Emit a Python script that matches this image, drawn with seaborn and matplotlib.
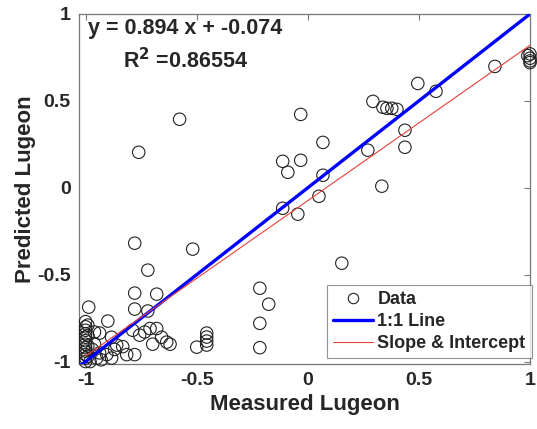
import numpy as np
import pandas as pd
import matplotlib
matplotlib.use("Agg")
import matplotlib.pyplot as plt
import seaborn as sns
from matplotlib.lines import Line2D

# ---- data ----
measured = [1.00, 0.99, 1.00, 1.00, 1.00, 0.842, 0.495, 0.577, 0.293,
            0.338, 0.356, 0.378, 0.401, -0.032, 0.437, 0.068, 0.437, 0.27,
            -0.032, 0.068, 0.05, 0.333, -0.045, -0.577, -0.113, -0.09,
            -0.113, -0.518, -0.72, 0.153, -0.761, -0.779, -0.216, -0.176,
            -0.216, -0.216, -0.5, -0.455, -0.455, -0.455, -0.455, -0.779,
            -0.68,
            -0.986, -0.90, -0.779, -0.72,
            -1.0, -1.0, -1.0, -1.0, -1.0, -1.0, -1.0, -1.0, -1.0, -1.0, -1.0, -1.0,
            -0.99, -0.99, -0.99, -0.99,
            -0.96, -0.937, -0.883, -0.788, -0.757, -0.734, -0.71, -0.68,
            -0.658, -0.635, -0.62, -0.698, -0.86, -0.833, -0.87, -0.815,
            -0.779, -0.905, -0.883, -0.937, -0.95, -0.98, -0.93, -0.97, -0.96]
predicted = [0.77, 0.76, 0.745, 0.73, 0.72, 0.698, 0.60, 0.555, 0.497,
             0.463, 0.457, 0.457, 0.451, 0.422, 0.331, 0.261, 0.233, 0.216,
             0.158, 0.072, -0.049, 0.009, -0.152, 0.394, 0.152, 0.089,
             -0.118, -0.353, -0.474, -0.434, 0.204, -0.319, -0.578, -0.67,
             -0.78, -0.92, -0.917, -0.836, -0.859, -0.882, -0.905, -0.606,
             -0.612,
             -0.687, -0.767, -0.698, -0.709,
             -0.77, -0.80, -0.82, -0.84, -0.86, -0.88, -0.90, -0.92, -0.94, -0.96, -0.98, -1.0,
             -0.79, -0.85, -0.91, -0.97,
             -0.83, -0.836, -0.86, -0.82, -0.848, -0.83, -0.81, -0.81,
             -0.86, -0.888, -0.90, -0.90, -0.905, -0.914, -0.93, -0.96,
             -0.96, -0.96, -0.98, -0.95, -0.98, -1.0, -0.99, -0.93, -0.90]

one_to_one = [-1.03, 1.0]
fit_range = [-1.0, 1.0]
slope = 0.894
intercept = -0.074
r_squared = 0.86554
ticks = [-1, -0.5, 0, 0.5, 1]
tick_labels = ["-1", "-0.5", "0", "0.5", "1"]

df = pd.DataFrame({"Measured": measured, "Predicted": predicted})
fit_x = np.array(fit_range)
fit_y = slope * fit_x + intercept

# ---- style ----
sns.set_style("white")
plt.rcParams["font.family"] = ["Liberation Sans", "DejaVu Sans"]
plt.rcParams["font.weight"] = "bold"
plt.rcParams["axes.unicode_minus"] = False

fig = plt.figure(figsize=(5.37, 4.29), dpi=100)
ax = fig.add_axes([0.147, 0.1515, 0.840, 0.816])

sns.scatterplot(data=df, x="Measured", y="Predicted", ax=ax, marker="o",
                s=80, facecolors="none", edgecolor="#222222", linewidth=0.8,
                clip_on=False, zorder=3)
sns.lineplot(x=one_to_one, y=one_to_one, ax=ax, color="#0000ff", lw=2.4,
             zorder=4)
sns.lineplot(x=fit_x, y=fit_y, ax=ax, color="#e8403c", lw=0.8, zorder=5)

ax.set_xlim(-1.03, 1.0)
ax.set_ylim(-1.014, 1.0)
ax.set_xticks(ticks)
ax.set_xticklabels(tick_labels)
ax.set_yticks(ticks)
ax.set_yticklabels(tick_labels)
ax.tick_params(direction="in", length=4, width=0.8, color="#777777",
               top=True, right=True, labelsize=14, pad=6)
for lab in ax.get_xticklabels() + ax.get_yticklabels():
    lab.set_fontweight("bold")
for sp in ax.spines.values():
    sp.set_color("#777777")
    sp.set_linewidth(0.9)

ax.set_xlabel("Measured Lugeon", fontsize=16, fontweight="bold", labelpad=3)
ax.set_ylabel("Predicted Lugeon", fontsize=16, fontweight="bold", labelpad=1)

ax.text(-0.55, 0.975, f"y = {slope} x + {intercept}\nR$^2$ ={r_squared}",
        ha="center", va="top", fontsize=15.5, fontweight="bold",
        linespacing=1.45, zorder=6)

handles = [
    Line2D([], [], marker="o", linestyle="none", markerfacecolor="none",
           markeredgecolor="#222222", markersize=7.5, markeredgewidth=0.8),
    Line2D([], [], color="#0000ff", lw=2.4),
    Line2D([], [], color="#e8403c", lw=0.8),
]
leg = ax.legend(handles, ["Data", "1:1 Line", "Slope & Intercept"],
                loc="lower right", bbox_to_anchor=(1.004, 0.016),
                fontsize=13, frameon=True, fancybox=False,
                borderaxespad=0.0, handlelength=2.2, handletextpad=0.25,
                labelspacing=0.28, borderpad=0.35)
leg.get_frame().set_edgecolor("#777777")
leg.get_frame().set_linewidth(0.8)
for t in leg.get_texts():
    t.set_fontweight("bold")

fig.savefig("out.png", dpi=100)
